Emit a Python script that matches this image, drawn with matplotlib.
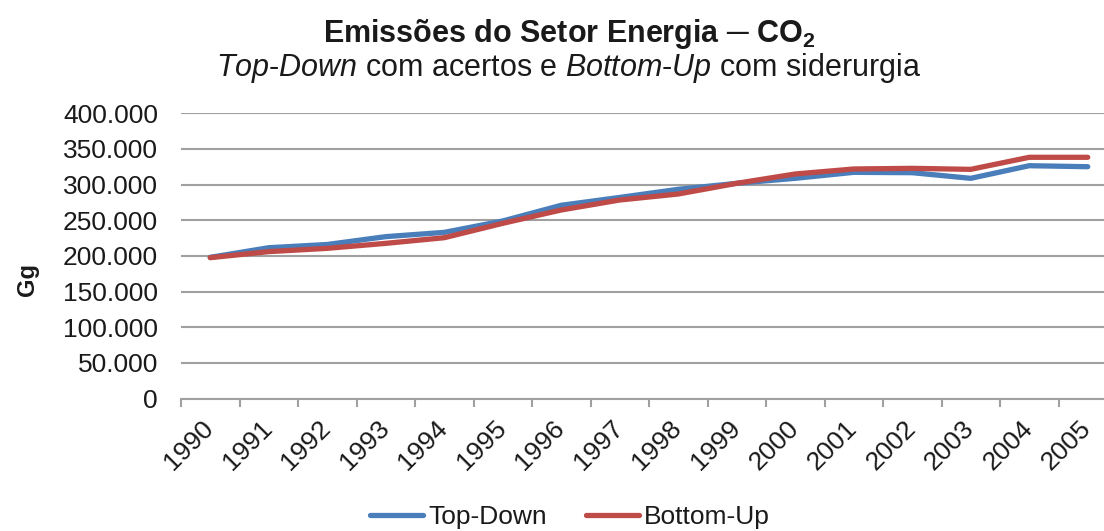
import matplotlib
matplotlib.use("Agg")
import matplotlib.pyplot as plt
import matplotlib.transforms as mtransforms
import numpy as np

plt.rcParams['font.family'] = ['Liberation Sans', 'DejaVu Sans']
plt.rcParams['mathtext.fontset'] = 'custom'
plt.rcParams['mathtext.rm'] = 'Liberation Sans'
plt.rcParams['mathtext.bf'] = 'Liberation Sans:bold'
plt.rcParams['mathtext.it'] = 'Liberation Sans:italic'

years = ['1990', '1991', '1992', '1993', '1994', '1995', '1996', '1997',
         '1998', '1999', '2000', '2001', '2002', '2003', '2004', '2005']
top_down = [198000, 211500, 216000, 227000, 233000, 249000, 271000, 282000,
            293400, 301800, 308800, 317200, 316700, 308800, 326500, 325100]
bottom_up = [197500, 206000, 210600, 217600, 225500, 245700, 264400, 278400,
             286800, 301800, 314900, 321900, 322800, 321400, 338300, 338300]
y_ticks = [0, 50000, 100000, 150000, 200000, 250000, 300000, 350000, 400000]
y_tick_labels = ['0', '50.000', '100.000', '150.000', '200.000', '250.000',
                 '300.000', '350.000', '400.000']

W, H = 1104, 531
fig = plt.figure(figsize=(W / 100, H / 100), dpi=100)
ax = fig.add_axes([181 / W, (H - 398.5) / H, 936 / W, (398.5 - 113.3) / H])

x = np.arange(len(years))
blue = '#4A7EBB'
red = '#BE4B48'
l1, = ax.plot(x, top_down, color=blue, lw=3.8, solid_capstyle='round',
              solid_joinstyle='round', label='Top-Down', zorder=3)
l2, = ax.plot(x, bottom_up, color=red, lw=3.8, solid_capstyle='round',
              solid_joinstyle='round', label='Bottom-Up', zorder=4)

ax.set_xlim(-0.5, len(years) - 0.5)
ax.set_ylim(0, 400000)
ax.set_yticks(y_ticks)
ax.set_yticklabels(y_tick_labels, fontsize=19, color='#1a1a1a')
ax.tick_params(axis='y', length=0, pad=16.5)
ax.grid(axis='y', color='#A0A0A0', lw=1.5, zorder=0)
ax.set_axisbelow(True)

ax.set_xticks(x)
ax.set_xticklabels(years, fontsize=19, rotation=45, ha='right', va='top',
                   rotation_mode='anchor', color='#1a1a1a')
ax.tick_params(axis='x', which='major', length=0, pad=4)
ax.set_xticks(np.arange(-0.5, len(years) + 0.5, 1.0), minor=True)
ax.tick_params(axis='x', which='minor', length=6, width=1.5, color='#A0A0A0')
offset = mtransforms.ScaledTranslation(-9 / 100, -12 / 100, fig.dpi_scale_trans)
for lbl in ax.get_xticklabels():
    lbl.set_transform(lbl.get_transform() + offset)

for s in ['top', 'right', 'left']:
    ax.spines[s].set_visible(False)
ax.spines['bottom'].set_color('#A0A0A0')
ax.spines['bottom'].set_linewidth(1.5)

fig.text(28 / W, 1 - 280 / H, 'Gg', rotation=90, fontsize=17, fontweight='bold',
         ha='center', va='center', color='#1a1a1a')

fig.text(569 / W, 1 - 34 / H, r'Emissões do Setor Energia ─ CO$_\mathbf{2}$',
         fontsize=22, fontweight='bold', ha='center', va='center', color='#1a1a1a')
fig.text(569 / W, 1 - 68 / H,
         r'$\mathit{Top}$-$\mathit{Down}$ com acertos e $\mathit{Bottom}$-$\mathit{Up}$ com siderurgia',
         fontsize=22, ha='center', va='center', color='#1a1a1a')

fig.legend(handles=[l1, l2], loc='center', bbox_to_anchor=(570 / W, 1 - 517 / H),
           ncol=2, frameon=False, fontsize=19, handlelength=2.0, handletextpad=0.2,
           columnspacing=1.5, labelcolor='#1a1a1a')

fig.savefig('out.png', dpi=100)
